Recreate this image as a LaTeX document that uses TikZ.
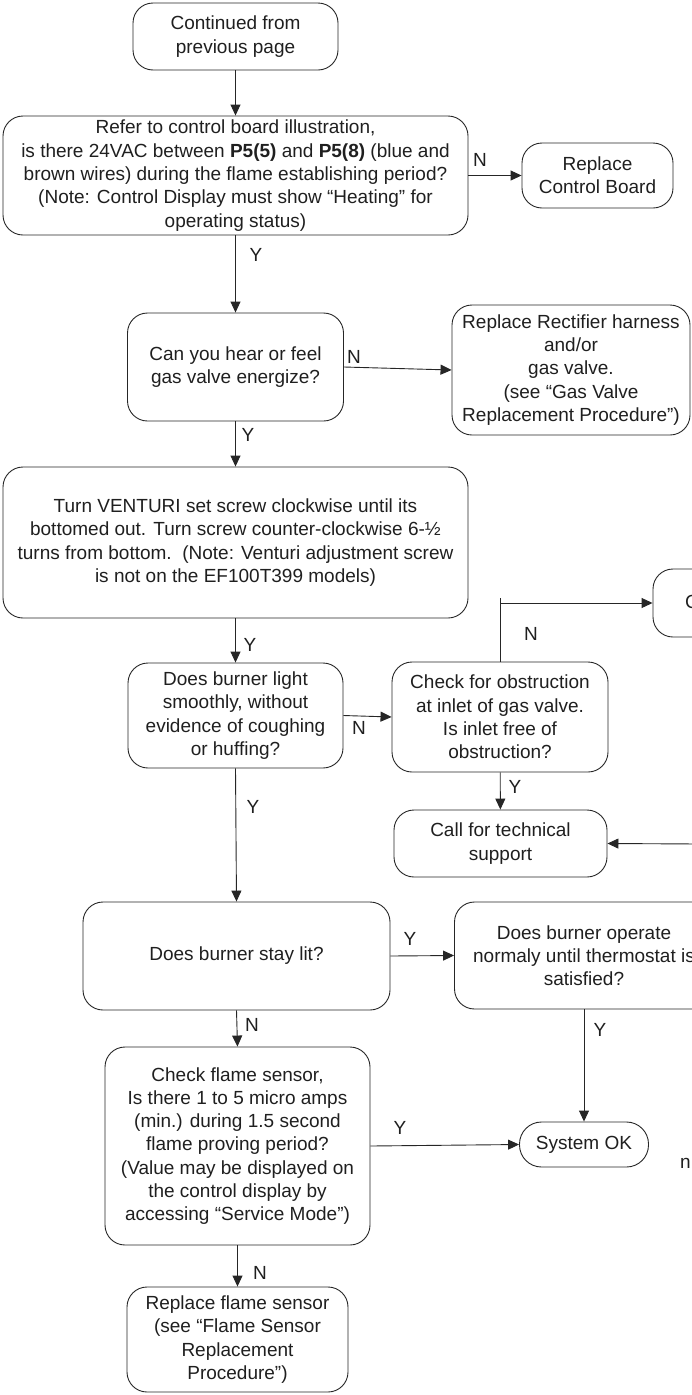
\documentclass[tikz,border=0pt]{standalone}
\usepackage{fontspec}
\setmainfont{Liberation Sans}
\usetikzlibrary{arrows.meta}
\newcommand\fsz{\fontsize{19}{23.3}\selectfont}
\begin{document}
\begin{tikzpicture}[x=1pt,y=-1pt,
 box/.style={draw=black!85, line width=0.9pt, rounded corners=20pt, align=center, inner sep=0pt, text=black!88, font=\fsz},
 lbl/.style={text=black!88, font=\fsz, inner sep=0pt},
 conn/.style={draw=black!85, line width=0.9pt, -{Triangle[length=11pt,width=10pt]}},
 plain/.style={draw=black!85, line width=0.9pt}]
\useasboundingbox (0,0) rectangle (692,1395);
\clip (0,0) rectangle (692,1395);

\node[box, minimum width=205pt, minimum height=67pt] (cont) at (235.5,36.5) {Continued from\\previous page};
\node[box, minimum width=465pt, minimum height=119pt] (refer) at (235.5,175.5) {Refer to control board illustration,\\is there 24VAC between \textbf{P5(5)} and \textbf{P5(8)} (blue and\\brown wires) during the flame establishing period?\\(Note: Control Display must show “Heating” for\\operating status)};
\node[box, minimum width=151pt, minimum height=65pt] (rcb) at (597.5,175.5) {Replace\\Control Board};
\node[box, minimum width=216pt, minimum height=108pt] (hear) at (235.5,367) {Can you hear or feel\\gas valve energize?};
\node[box, minimum width=238pt, minimum height=130pt] (rect) at (571,370) {Replace Rectifier harness\\and/or\\gas valve.\\(see “Gas Valve\\Replacement Procedure”)};
\node[box, minimum width=465pt, minimum height=151pt] (venturi) at (235.5,542.5) {Turn VENTURI set screw clockwise until its\\bottomed out. Turn screw counter-clockwise 6-½\\turns from bottom.\ \ (Note: Venturi adjustment screw\\is not on the EF100T399 models)};
\node[box, minimum width=215pt, minimum height=105pt] (light) at (235.5,715.5) {Does burner light\\smoothly, without\\evidence of coughing\\or huffing?};
\node[box, minimum width=216pt, minimum height=110pt] (obstr) at (500,717) {Check for obstruction\\at inlet of gas valve.\\Is inlet free of\\obstruction?};
\node[box, minimum width=200pt, minimum height=68pt] (cbox) at (753,603) {};
\node[lbl, anchor=west] (ctext) at (685,602) {C};
\node[box, minimum width=213pt, minimum height=67pt] (call) at (500.5,843.5) {Call for technical\\support};
\node[box, minimum width=307pt, minimum height=108pt] (stay) at (236.5,956) {Does burner stay lit?};
\node[box, minimum width=259pt, minimum height=107pt] (oper) at (584,955.5) {Does burner operate\\normaly until thermostat is\\satisfied?};
\node[box, minimum width=129pt, minimum height=45pt, rounded corners=22pt] (ok) at (584,1144.5) {System OK};
\node[lbl, anchor=base west] (ntext) at (680,1168) {n};
\node[box, minimum width=265pt, minimum height=198pt] (flame) at (237.5,1146) {Check flame sensor,\\Is there 1 to 5 micro amps\\(min.) during 1.5 second\\flame proving period?\\(Value may be displayed on\\the control display by\\accessing “Service Mode”)};
\node[box, minimum width=221pt, minimum height=105pt] (repl) at (237.5,1339.5) {Replace flame sensor\\(see “Flame Sensor\\Replacement\\Procedure”)};

\coordinate (otop) at (500,598);
\coordinate (obr) at (500,603);
\coordinate (rin) at (700,844);

\draw[conn] (cont) -- (refer);
\draw[conn] (refer.east) -- (rcb.west);
\draw[conn] (refer) -- (hear);
\draw[conn] (hear.east) -- (rect.west);
\draw[conn] (hear) -- (venturi);
\draw[conn] (venturi) -- (light);
\draw[conn] (light.east) -- (obstr.west);
\draw[plain] (obstr.north) -- (otop);
\draw[conn] (obr) -- (cbox.west);
\draw[conn] (obstr) -- (call);
\draw[conn] (rin) -- (call.east);
\draw[conn] (light.south) -- (stay.north);
\draw[conn] (stay.east) -- (oper.west);
\draw[conn] (oper) -- (ok);
\draw[conn] (stay.south) -- (flame.north);
\draw[conn] (flame.east) -- (ok.west);
\draw[conn] (flame) -- (repl);

\node[lbl] (l1) at (480,160) {N};
\node[lbl] (l2) at (256,255) {Y};
\node[lbl] (l3) at (354,357) {N};
\node[lbl] (l4) at (248,435) {Y};
\node[lbl] (l5) at (250,645) {Y};
\node[lbl] (l6) at (359,728) {N};
\node[lbl] (l7) at (531,634) {N};
\node[lbl] (l8) at (515,787) {Y};
\node[lbl] (l9) at (253,807) {Y};
\node[lbl] (l10) at (410,939) {Y};
\node[lbl] (l11) at (600,1030) {Y};
\node[lbl] (l12) at (252,1025) {N};
\node[lbl] (l13) at (400,1128) {Y};
\node[lbl] (l14) at (260,1273) {N};
\end{tikzpicture}
\end{document}
